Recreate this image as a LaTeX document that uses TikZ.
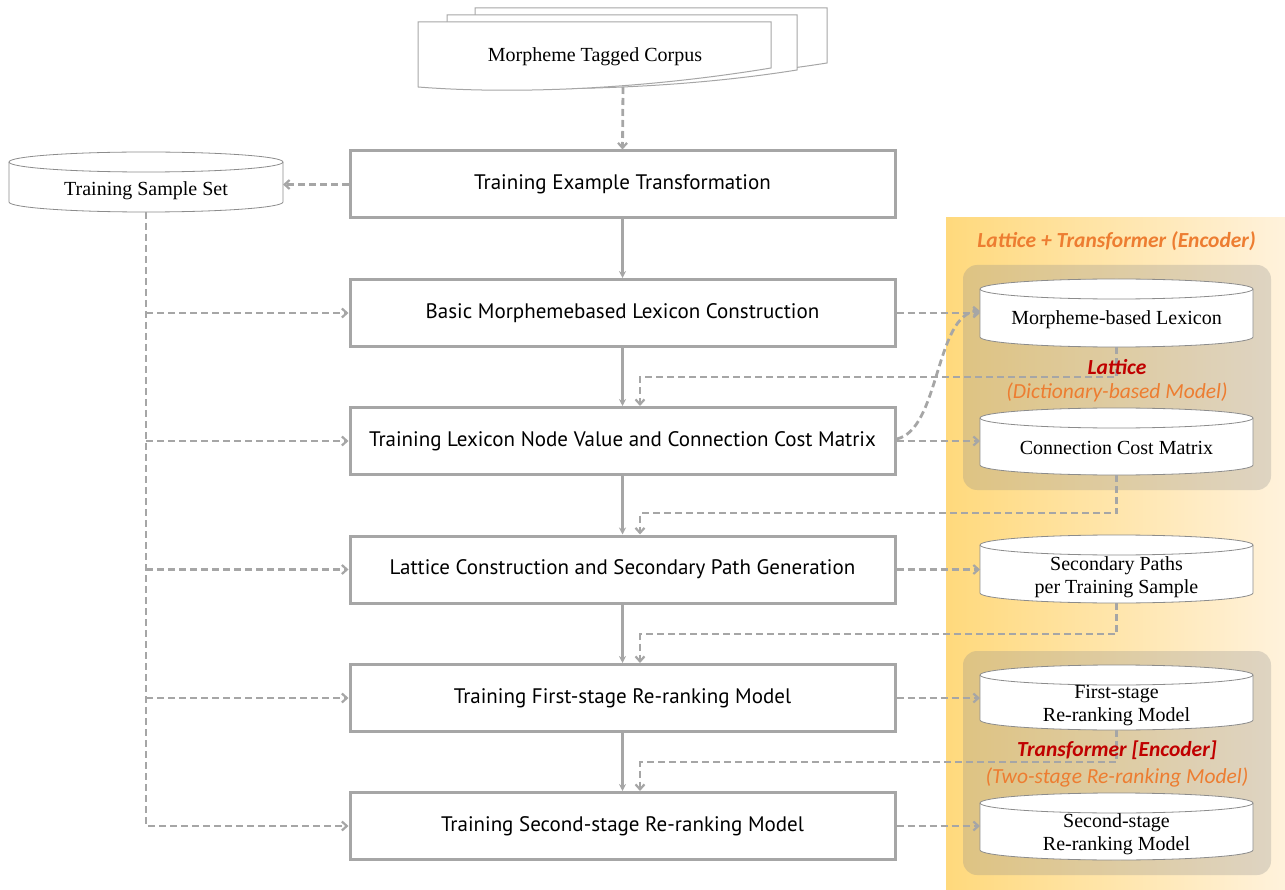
\documentclass[tikz,border=0pt]{standalone}
\usepackage{fontspec}
\setmainfont{Liberation Serif}
\newfontfamily\boxfont{PT Sans}
\newfontfamily\calib{Carlito}
\usetikzlibrary{arrows.meta,calc}
\definecolor{lgray}{HTML}{A6A6A6}
\definecolor{cgray}{HTML}{8C8C8C}
\definecolor{panelL}{HTML}{FFD97C}
\definecolor{panelR}{HTML}{FFF2DC}
\definecolor{tanbox}{HTML}{8A8A8A}
\definecolor{orangetxt}{HTML}{ED7D31}
\definecolor{redtxt}{HTML}{C00000}
\tikzset{
  procbox/.style={draw=lgray, line width=3pt, fill=white, minimum width=545pt, minimum height=67pt, inner sep=0pt, font=\boxfont\fontsize{21}{24}\selectfont},
  solidarrow/.style={draw=lgray, line width=2.5pt, -{Stealth[length=7pt,width=7pt]}},
  dline/.style={draw=lgray, line width=2.8pt, dash pattern=on 7pt off 4pt},
  darrow/.style={dline, -{Straight Barb[length=5pt,width=9pt,line width=2.2pt]}},
  cylnode/.style={minimum width=273pt, minimum height=68pt, inner sep=0pt, outer sep=0pt},
  cyltext/.style={align=center, inner sep=0pt, font=\fontsize{20}{23}\selectfont},
  cylline/.style={draw=cgray, line width=0.8pt},
  docline/.style={draw=lgray, line width=1pt, fill=white},
  titletxt/.style={font=\calib\bfseries\itshape\fontsize{21.5}{24}\selectfont, text=orangetxt},
  subtxt/.style={font=\calib\itshape\fontsize{21.5}{24}\selectfont, text=orangetxt},
  redlbl/.style={font=\calib\bfseries\itshape\fontsize{21.5}{24}\selectfont, text=redtxt},
}
\newcommand\mycyl[2]{%
  \draw[cylline,fill=white] ([yshift=-10pt]#1.north west) -- ([yshift=10pt]#1.south west)
     arc[start angle=180,end angle=360,x radius=#2pt,y radius=10pt]
     -- ([yshift=-10pt]#1.north east)
     arc[start angle=0,end angle=180,x radius=#2pt,y radius=10pt] -- cycle;
  \draw[cylline] ([yshift=-10pt]#1.north east) arc[start angle=0,end angle=-180,x radius=#2pt,y radius=10pt];
}
\begin{document}
\begin{tikzpicture}[x=1pt,y=-1pt]
\useasboundingbox (0,0) rectangle (1285,890);
% right panel
\shade[left color=panelL, right color=panelR] (946,218) rectangle (1285,890);
\fill[tanbox, fill opacity=0.28, rounded corners=14pt] (963,265) rectangle (1271,490);
\fill[tanbox, fill opacity=0.28, rounded corners=14pt] (963,651) rectangle (1271,875);
\node[titletxt] (ttl) at (1116.5,241) {Lattice + Transformer (Encoder)};

% corpus documents
\draw[docline] (475,8) -- (827,8) -- (827,63) .. controls (720,80) and (600,85) .. (475,80) -- cycle;
\draw[docline] (447,15) -- (797,15) -- (797,70) .. controls (690,87) and (570,92) .. (447,87) -- cycle;
\draw[docline] (418,22) -- (771,22) -- (771,68) .. controls (650,88) and (520,95) .. (418,87) -- cycle;
\node[cyltext] (corpus) at (595,57) {Morpheme Tagged Corpus};
\coordinate (cb) at (623,87);

% process boxes
\node[procbox] (b1) at (622.5,184.5) {Training Example Transformation};
\node[procbox] (b2) at (622.5,313) {Basic Morphemebased Lexicon Construction};
\node[procbox] (b3) at (622.5,441) {Training Lexicon Node Value and Connection Cost Matrix};
\node[procbox] (b4) at (622.5,569.5) {Lattice Construction and Secondary Path Generation};
\node[procbox] (b5) at (622.5,698) {Training First-stage Re-ranking Model};
\node[procbox] (b6) at (622.5,826) {Training Second-stage Re-ranking Model};

% cylinders
\node[cylnode, minimum width=274pt, minimum height=60pt] (tss) at (146,182) {};
\mycyl{tss}{137}
\node[cyltext] (tsst) at (146,191) {Training Sample Set};

\node[cylnode] (lex) at (1116.5,313) {};
\mycyl{lex}{136.5}
\node[cyltext] (lext) at (1116.5,320) {Morpheme-based Lexicon};
\node[cylnode, minimum height=67pt] (ccm) at (1116.5,441.5) {};
\mycyl{ccm}{136.5}
\node[cyltext] (ccmt) at (1116.5,448) {Connection Cost Matrix};
\node[cylnode] (sp) at (1116.5,569) {};
\mycyl{sp}{136.5}
\node[cyltext] (spt) at (1116.5,577) {Secondary Paths\\per Training Sample};
\node[cylnode, minimum height=65pt] (fs) at (1116.5,697.5) {};
\mycyl{fs}{136.5}
\node[cyltext] (fst) at (1116.5,706) {First-stage\\Re-ranking Model};
\node[cylnode, minimum height=67pt] (ss) at (1116.5,826.5) {};
\mycyl{ss}{136.5}
\node[cyltext] (sst) at (1116.5,834) {Second-stage\\Re-ranking Model};

% main flow
\draw[darrow] (cb) -- (b1.north);
\draw[darrow] (b1.west) -- (tss.east |- b1.west);
\draw[solidarrow] (b1.south) -- (b2.north);
\draw[solidarrow] (b2.south) -- (b3.north);
\draw[solidarrow] (b3.south) -- (b4.north);
\draw[solidarrow] (b4.south) -- (b5.north);
\draw[solidarrow] (b5.south) -- (b6.north);

% left trunk
\draw[darrow] (tss.south) |- (b6.west);
\foreach \b in {b2,b3,b4,b5}{\draw[darrow] (tss.south |- \b.west) -- (\b.west);}

% right connections
\draw[darrow] (b2.east) -- (lex.west);
\draw[darrow] (b3.east) -- (ccm.west |- b3.east);
\draw[darrow] ([yshift=2pt]b3.east) .. controls (940,430) and (935,313) .. ([yshift=2pt]lex.west);
\draw[darrow] (b4.east) -- (sp.west |- b4.east);
\draw[darrow] (b5.east) -- (fs.west |- b5.east);
\draw[darrow] (b6.east) -- (ss.west |- b6.east);

\draw[darrow] (lex.south) -- ++(0,30) -| ([xshift=17.5pt]b3.north);
\draw[darrow] (ccm.south) -- ++(0,38) -| ([xshift=17.5pt]b4.north);
\draw[darrow] (sp.south) -- ++(0,31) -| ([xshift=17.5pt]b5.north);
\draw[darrow] (fs.south) -- ++(0,32) -| ([xshift=17.5pt]b6.north);

% labels inside panel
\node[redlbl] (lat) at (1117,367) {Lattice};
\node[subtxt] (latsub) at (1117,392) {(Dictionary-based Model)};
\node[redlbl] (trf) at (1117,750) {Transformer [Encoder]};
\node[subtxt] (trfsub) at (1117,777) {(Two-stage Re-ranking Model)};
\end{tikzpicture}
\end{document}
